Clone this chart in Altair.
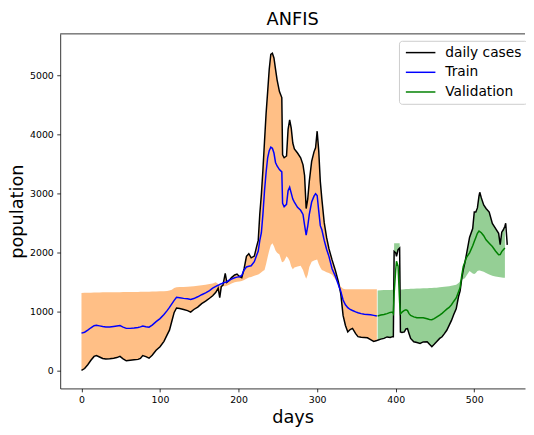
import altair as alt
import pandas as pd

# ---------------- data ----------------
train_days = [0, 4, 8, 12, 16, 19, 23, 27, 31, 36, 41, 45, 49, 53, 57, 62, 67, 72, 75, 78,
              82, 86, 90, 95, 100, 105, 109, 112, 115, 118, 121, 125, 130, 135, 139, 143, 148,
              153, 158, 163, 167, 171, 174, 176, 178, 180, 183, 185, 188, 191, 195, 198, 201,
              204, 207, 210, 213, 216, 220, 223, 225, 227, 229, 231, 233, 235, 237, 239, 241,
              243, 245, 247, 249, 252, 255, 256, 258, 261, 263, 265, 267, 269, 271, 275, 279,
              282, 284, 286, 288, 290, 293, 296, 298, 300, 302, 304, 306, 309, 312, 315, 319,
              323, 327, 330, 333, 336, 339, 342, 345, 349, 352, 356, 360, 364, 368, 372, 376]
train_cases = [0, 30, 95, 170, 235, 250, 225, 200, 190, 195, 205, 215, 235, 195, 160, 170, 177,
               185, 200, 250, 232, 205, 255, 340, 400, 490, 600, 680, 830, 980, 1055, 1045, 1030,
               1010, 985, 1030, 1070, 1130, 1170, 1220, 1262, 1320, 1390, 1230, 1420, 1440, 1640,
               1490, 1520, 1570, 1615, 1630, 1590, 1570, 1720, 1930, 1975, 1905, 1935, 2100, 2200,
               2650, 2980, 3400, 3880, 4350, 4720, 5100, 5350, 5370, 5290, 5100, 4920, 4720, 4620,
               3650, 3600, 3630, 4080, 4240, 4100, 3850, 3750, 3680, 3600, 3480, 3300, 2740, 2900,
               3200, 3540, 3700, 3770, 4050, 3720, 3200, 2900, 2500, 2250, 2060, 1870, 1700, 1500,
               1300, 930, 760, 650, 690, 710, 620, 570, 560, 555, 550, 520, 490, 505]
train_pred = [630, 645, 680, 720, 755, 762, 752, 742, 735, 733, 742, 750, 757, 732, 710, 710,
              716, 724, 735, 748, 738, 730, 765, 825, 875, 945, 1010, 1065, 1125, 1185, 1235,
              1228, 1218, 1210, 1200, 1215, 1245, 1280, 1312, 1350, 1390, 1420, 1440, 1455, 1465,
              1478, 1490, 1500, 1525, 1545, 1568, 1578, 1585, 1605, 1700, 1750, 1763, 1770, 1840,
              1950, 2020, 2200, 2330, 2650, 3040, 3350, 3600, 3720, 3780, 3760, 3680, 3520, 3460,
              3400, 3360, 2830, 2770, 2810, 3040, 3100, 3000, 2900, 2850, 2760, 2710, 2640, 2460,
              2290, 2440, 2640, 2850, 2950, 2990, 2960, 2700, 2450, 2380, 2200, 2050, 1930, 1720,
              1600, 1450, 1340, 1190, 1110, 1060, 1030, 1012, 990, 975, 960, 950, 945, 940, 930, 918]
train_edge = [1310, 1312, 1314, 1315, 1316, 1318, 1318, 1320, 1320, 1320, 1322, 1322, 1323, 1324,
              1325, 1326, 1327, 1328, 1329, 1330, 1331, 1332, 1333, 1335, 1337, 1340, 1345, 1350,
              1365, 1395, 1405, 1410, 1412, 1415, 1420, 1425, 1430, 1440, 1450, 1460, 1470, 1490,
              1460, 1440, 1430, 1425, 1425, 1430, 1450, 1470, 1490, 1500, 1505, 1513, 1530, 1550,
              1570, 1580, 1600, 1615, 1624, 1640, 1660, 1680, 1700, 1800, 1920, 2030, 2120, 2150,
              2100, 2030, 1990, 1960, 1840, 1830, 1850, 1930, 1900, 1850, 1760, 1710, 1740, 1760,
              1770, 1700, 1620, 1550, 1620, 1750, 1840, 1860, 1870, 1875, 1800, 1740, 1700, 1680,
              1660, 1650, 1620, 1540, 1470, 1420, 1380, 1374, 1374, 1374, 1374, 1374, 1374, 1374,
              1374, 1374, 1374, 1374, 1374]

val_days = [377, 381, 385, 389, 393, 396, 397, 398, 400, 401, 403, 405, 406, 408, 411, 413, 415,
            417, 419, 423, 427, 431, 435, 440, 443, 446, 449, 452, 456, 459, 462, 465, 468, 471,
            474, 477, 480, 482, 484, 486, 488, 490, 494, 498, 500, 502, 504, 506, 507, 509, 512,
            515, 519, 523, 527, 531, 533, 535, 537, 539]
val_cases = [510, 528, 540, 565, 555, 570, 568, 2013, 1990, 1930, 2042, 2070, 650, 640, 651, 700,
             706, 620, 539, 484, 470, 456, 480, 484, 440, 400, 440, 484, 540, 568, 620, 678, 760,
             845, 950, 1040, 1250, 1346, 1550, 1700, 1820, 1958, 2250, 2400, 2681, 2680, 2750,
             2950, 3015, 2920, 2800, 2740, 2681, 2487, 2404, 2320, 2130, 2340, 2380, 2440]
val_pred = [920, 935, 945, 960, 980, 985, 960, 1300, 1700, 1847, 1763, 1150, 957, 985, 1015,
            1023, 1010, 960, 928, 905, 890, 890, 890, 872, 862, 857, 875, 900, 935, 965, 1000,
            1035, 1065, 1110, 1170, 1225, 1330, 1402, 1600, 1760, 1830, 1910, 1990, 2110, 2180,
            2250, 2320, 2359, 2350, 2330, 2280, 2209, 2153, 2097, 2020, 1958, 1960, 2010, 2042, 2070]
val_edge = [1352, 1355, 1358, 1360, 1362, 1364, 1365, 2150, 2150, 2150, 2150, 2150, 1370, 1370,
            1372, 1375, 1376, 1378, 1380, 1382, 1384, 1386, 1388, 1390, 1392, 1395, 1398, 1400,
            1405, 1410, 1415, 1420, 1425, 1430, 1440, 1450, 1480, 1510, 1530, 1545, 1560, 1600,
            1680, 1640, 1630, 1650, 1680, 1690, 1690, 1680, 1670, 1650, 1624, 1600, 1590, 1580,
            1575, 1570, 1569, 1569]

tail_days = [540, 542]
tail_cases = [2490, 2125]

series_names = ["daily cases", "Train", "Validation"]
series_colors = ["#000000", "#0000ff", "#008000"]

x_ticks = [0, 100, 200, 300, 400, 500]
y_ticks = [0, 1000, 2000, 3000, 4000, 5000]
x_domain = [-27.1, 564.6]
y_domain = [-307, 5698]

# ---------------- tables ----------------
cases_df = pd.DataFrame({
    "day": train_days + val_days + tail_days,
    "value": train_cases + val_cases + tail_cases,
    "series": "daily cases",
})
train_df = pd.DataFrame({"day": train_days, "value": train_pred, "series": "Train"})
val_df = pd.DataFrame({"day": val_days, "value": val_pred, "series": "Validation"})
lines_df = pd.concat([cases_df, train_df, val_df], ignore_index=True)

band_train = pd.DataFrame({
    "day": train_days,
    "lo": [min(a, b) for a, b in zip(train_cases, train_edge)],
    "hi": [max(a, b) for a, b in zip(train_cases, train_edge)],
})
band_val = pd.DataFrame({
    "day": val_days,
    "lo": [min(a, b) for a, b in zip(val_cases, val_edge)],
    "hi": [max(a, b) for a, b in zip(val_cases, val_edge)],
})

FONT = "DejaVu Sans"

x_scale = alt.Scale(domain=x_domain, nice=False, zero=False)
y_scale = alt.Scale(domain=y_domain, nice=False, zero=False)

x_axis = alt.Axis(values=x_ticks, format="d", title="days", grid=False,
                  tickSize=3.5, tickColor="#000", tickWidth=0.8,
                  domainColor="#000", domainWidth=0.8,
                  labelFontSize=9.5, labelFont=FONT, labelColor="#000", labelPadding=3,
                  titleFontSize=18, titleFont=FONT, titleFontWeight="normal", titleColor="#000",
                  titleBaseline="alphabetic", titleY=35)
y_axis = alt.Axis(values=y_ticks, format="d", title="population", grid=False,
                  tickSize=3.5, tickColor="#000", tickWidth=0.8,
                  domainColor="#000", domainWidth=0.8,
                  labelFontSize=9.5, labelFont=FONT, labelColor="#000", labelPadding=3.5,
                  titleFontSize=18, titleFont=FONT, titleFontWeight="normal", titleColor="#000",
                  titleAngle=270, titleBaseline="alphabetic", titleAlign="center",
                  titleX=-38, titleY=180)

area_train = alt.Chart(band_train).mark_area(color="#ff7f0e", opacity=0.5).encode(
    x=alt.X("day:Q", scale=x_scale, axis=x_axis),
    y=alt.Y("lo:Q", scale=y_scale, axis=y_axis),
    y2="hi:Q",
)
area_val = alt.Chart(band_val).mark_area(color="#2ca02c", opacity=0.5).encode(
    x=alt.X("day:Q", scale=x_scale),
    y=alt.Y("lo:Q", scale=y_scale),
    y2="hi:Q",
)

lines = alt.Chart(lines_df).mark_line(strokeWidth=1.5).encode(
    x=alt.X("day:Q", scale=x_scale),
    y=alt.Y("value:Q", scale=y_scale),
    color=alt.Color("series:N",
                    scale=alt.Scale(domain=series_names, range=series_colors),
                    sort=series_names,
                    legend=alt.Legend(title=None, orient="none", legendX=344, legendY=7,
                                      symbolType="M-1,0H5", symbolSize=100,
                                      symbolStrokeWidth=1.5, labelFontSize=14,
                                      labelFont=FONT, labelColor="#000", labelOffset=28,
                                      rowPadding=6, padding=5, fillColor="white",
                                      strokeColor="#cccccc", cornerRadius=3)),
)

top_frame = alt.Chart(pd.DataFrame({"top": [y_domain[1]]})).mark_rule(
    color="#000", strokeWidth=0.8).encode(y=alt.Y("top:Q", scale=y_scale))

chart = alt.layer(area_train, area_val, lines, top_frame).properties(
    width=472, height=360,
    title=alt.TitleParams("ANFIS", fontSize=18, font=FONT, fontWeight="normal",
                          color="#000", offset=5),
    padding={"left": 53, "top": 23, "right": 1, "bottom": 43},
    autosize=alt.AutoSizeParams(type="none"),
).configure_view(stroke=None)

chart.save("out.html", embed_options={"renderer": "svg", "actions": False})
